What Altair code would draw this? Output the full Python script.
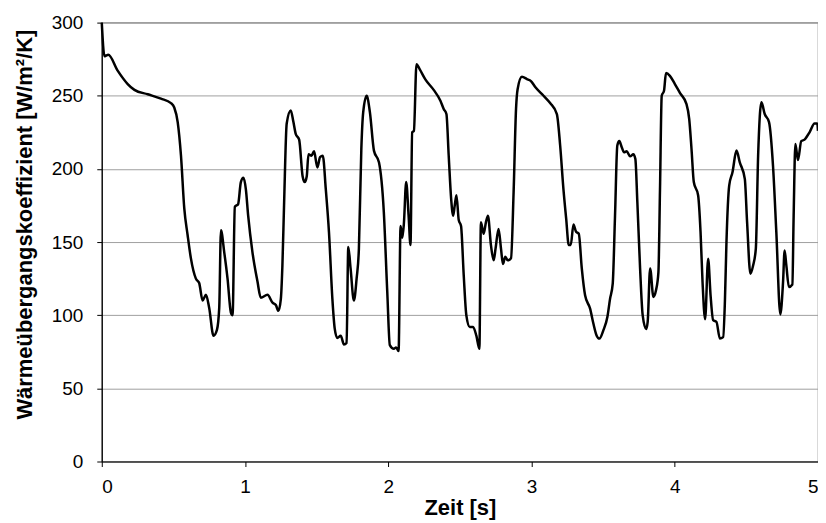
import altair as alt
import pandas as pd

zeit = [0.000, 0.019, 0.030, 0.045, 0.112, 0.181, 0.228, 0.321, 0.413, 0.483, 0.506, 0.530, 0.553, 0.576, 0.599,
        0.622, 0.657, 0.680, 0.704, 0.727, 0.750, 0.780, 0.804, 0.820, 0.832, 0.855, 0.878, 0.901, 0.913,
        0.929, 0.952, 0.971, 0.989, 1.006, 1.022, 1.052, 1.087, 1.110, 1.157, 1.192, 1.215, 1.233,
        1.250, 1.261, 1.273, 1.291, 1.319, 1.338, 1.354, 1.378, 1.402, 1.417, 1.431, 1.443, 1.464,
        1.482, 1.505, 1.524, 1.543, 1.564, 1.586, 1.610, 1.626, 1.644, 1.668, 1.691, 1.709, 1.721,
        1.737, 1.760, 1.779, 1.795, 1.812, 1.825, 1.849, 1.872, 1.900, 1.935, 1.969, 1.993, 2.011,
        2.039, 2.055, 2.072, 2.086, 2.098, 2.109, 2.125, 2.142, 2.155, 2.167, 2.179, 2.197, 2.220,
        2.260, 2.317, 2.364, 2.387, 2.406, 2.422, 2.439, 2.453, 2.464, 2.476, 2.492, 2.508, 2.527,
        2.545, 2.569, 2.592, 2.615, 2.636, 2.647, 2.666, 2.682, 2.696, 2.717, 2.736, 2.749, 2.770,
        2.787, 2.801, 2.817, 2.834, 2.857, 2.875, 2.892, 2.903, 2.933, 2.968, 2.996, 3.026, 3.084,
        3.130, 3.177, 3.200, 3.223, 3.242, 3.260, 3.274, 3.293, 3.311, 3.330, 3.351, 3.374, 3.409,
        3.432, 3.455, 3.474, 3.502, 3.530, 3.548, 3.567, 3.583, 3.599, 3.613, 3.630, 3.646, 3.664,
        3.688, 3.711, 3.725, 3.739, 3.758, 3.776, 3.800, 3.811, 3.828, 3.851, 3.869, 3.886, 3.897,
        3.909, 3.925, 3.939, 3.966, 4.001, 4.036, 4.082, 4.101, 4.117, 4.133, 4.163, 4.180, 4.194,
        4.212, 4.233, 4.250, 4.268, 4.291, 4.315, 4.338, 4.350, 4.361, 4.380, 4.403, 4.431, 4.454,
        4.489, 4.505, 4.528, 4.547, 4.566, 4.582, 4.605, 4.628, 4.658, 4.686, 4.709, 4.737, 4.756,
        4.767, 4.779, 4.797, 4.821, 4.830, 4.842, 4.860, 4.883, 4.906, 4.941, 4.976, 4.995, 5.000]

waerme = [300.0, 277.0, 277.5, 278.0, 267.0, 258.0, 254.0, 251.0, 248.0, 245.0, 242.0, 232.0, 209.0, 173.0, 155.0,
          139.0, 125.0, 122.0, 110.0, 114.0, 105.0, 86.0, 90.0, 105.0, 158.0, 143.0, 125.0, 102.0, 100.0,
          174.0, 176.0, 191.0, 194.0, 186.0, 168.0, 143.0, 123.0, 112.0, 114.0, 108.6, 107.0, 103.0,
          111.0, 134.0, 177.0, 231.0, 240.0, 232.0, 224.0, 220.0, 195.0, 191.0, 195.0, 210.0, 209.0,
          212.0, 201.0, 208.0, 209.0, 186.0, 157.0, 111.0, 91.0, 84.5, 86.0, 80.0, 81.0, 146.6,
          132.0, 110.0, 125.0, 145.5, 213.6, 238.6, 250.0, 238.6, 212.5, 204.5, 170.5, 116.0, 79.5,
          77.0, 78.0, 75.5, 161.0, 153.0, 162.5, 191.0, 168.0, 148.0, 225.0, 226.0, 271.6, 268.0,
          261.0, 254.0, 246.6, 241.0, 237.5, 209.0, 179.5, 168.0, 175.0, 182.0, 165.0, 161.0, 127.0,
          100.0, 92.0, 92.0, 86.0, 77.0, 163.6, 155.7, 163.6, 168.0, 147.7, 137.5, 145.5, 159.0,
          145.5, 135.0, 140.0, 137.5, 139.0, 184.0, 241.0, 254.5, 263.0, 261.4, 260.0, 256.0, 250.0,
          245.0, 237.5, 216.0, 186.0, 166.0, 148.0, 148.0, 162.0, 157.0, 155.7, 132.0, 113.6, 104.5,
          94.3, 86.0, 84.0, 89.8, 99.0, 111.0, 121.6, 168.0, 216.0, 219.0, 214.8, 211.4, 212.0,
          208.6, 210.0, 206.8, 177.0, 132.0, 100.0, 90.5, 95.5, 132.0, 112.5, 117.0, 129.5, 186.0,
          250.0, 253.4, 265.5, 263.6, 258.0, 252.0, 244.3, 234.0, 213.6, 191.0, 182.0, 157.0, 122.7,
          97.3, 138.6, 113.6, 96.6, 95.5, 84.0, 85.0, 109.0, 150.0, 188.6, 197.7, 212.5, 204.5,
          193.2, 163.6, 128.4, 134.0, 145.5, 209.0, 245.5, 237.5, 232.0, 202.0, 157.0, 100.5, 122.7,
          144.3, 134.0, 119.3, 121.0, 168.0, 217.0, 206.0, 219.0, 220.0, 225.0, 231.0, 231.0, 226.0]

x_ticks = [0, 1, 2, 3, 4, 5]
y_ticks = [0, 50, 100, 150, 200, 250, 300]

df = pd.DataFrame({"Zeit": zeit, "W": waerme})

FONT = "Liberation Sans"

chart = alt.Chart(df).mark_line(color="black", strokeWidth=2.5, interpolate="monotone").encode(
    x=alt.X("Zeit:Q", scale=alt.Scale(domain=[0, 5], nice=False),
            axis=alt.Axis(values=x_ticks, title="Zeit [s]", grid=False, format="d",
                          labelPadding=11, titlePadding=1)),
    y=alt.Y("W:Q", scale=alt.Scale(domain=[0, 300], nice=False),
            axis=alt.Axis(values=y_ticks, title="Wärmeübergangskoeffizient [W/m²/K]", grid=True,
                          labelPadding=14, titleAngle=-90, titleX=-77, titleY=202,
                          titleAlign="center", titleBaseline="middle")),
).properties(
    width=718, height=440,
    autosize=alt.AutoSizeParams(type="none"),
    padding={"left": 94, "top": 14, "right": 0, "bottom": 61},
).configure_axis(
    labelFont=FONT, titleFont=FONT, labelFontSize=19, titleFontSize=22, titleFontWeight="bold",
    labelColor="black", titleColor="black", domainColor="black", tickColor="black",
    tickSize=5, domainWidth=1.2, gridColor="#a0a0a0", gridWidth=1,
).configure_view(stroke="#808080", strokeWidth=1.2)

chart.save("out.html", embed_options={"renderer": "svg", "actions": False})
